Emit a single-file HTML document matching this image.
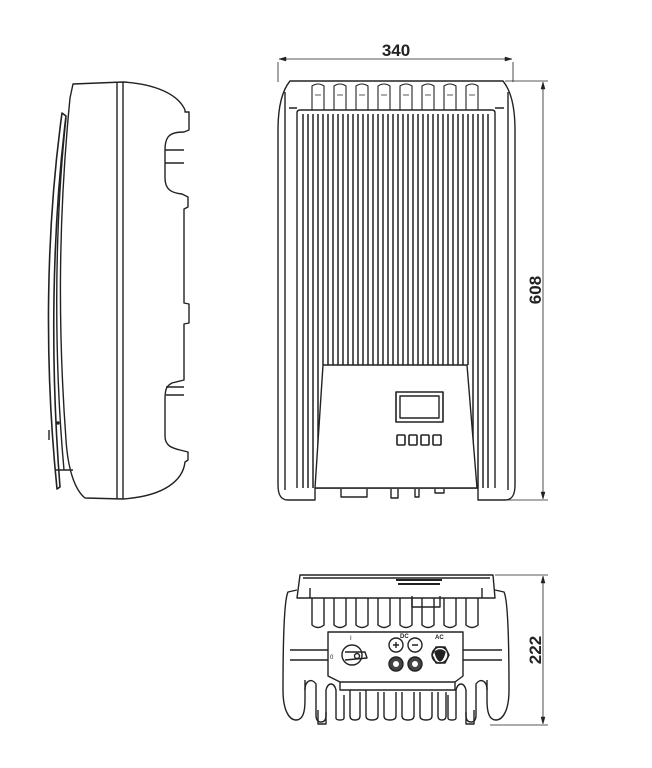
<!DOCTYPE html>
<html><head><style>html,body{margin:0;padding:0;background:#fff}svg{display:block}</style></head>
<body>
<svg width="652" height="768" viewBox="0 0 652 768" xmlns="http://www.w3.org/2000/svg" fill="none" stroke="#222" stroke-width="1.4" stroke-linejoin="round">
<!-- SIDE VIEW -->
<path d="M62,113 L66,116 C52,230 50,360 60,487 L57,489 C44,360 46,230 62,113 Z" stroke-width="1.6"/>
<path d="M66,118 C54,230 54,360 64,470" />
<path d="M73,84 L123,82 C155,84 178,94 185,110 L185,112 L189,112 L189,130 L184,132 C170,132 165,136 165,150 L165,178 C165,190 172,193 182,194 L188,197 L188,207 L184,209 L184,303 L189,304 L189,323 L184,324 L184,380 L172,383 C166,386 165,390 165,400 L165,436 C165,446 172,448 180,450 L188,452 L188,460 L185,462 C183,480 165,496 123,499 L85,498 C75,490 68,470 66,440 C58,330 58,220 70,98 Z"/>
<path d="M117,82 L117,499 M123,82 L123,499"/>
<path d="M165,150 L184,150 M165,163 L184,163 M166,395 L184,395 M166,387 L184,387"/>
<circle cx="58" cy="423" r="1" fill="#222"/>
<path d="M49,430 L49,440 M56,470 L73,470"/>

<!-- FRONT VIEW dims -->
<path d="M278,62 L278,82 M513,62 L513,82 M279,59 L512,59" stroke-width="0.8"/>
<path d="M279,59 l7,-2 v4z M512,59 l-7,-2 v4z" fill="#222" stroke-width="0.5"/>
<text x="396" y="56" font-family="Liberation Sans, sans-serif" font-size="17" font-weight="bold" fill="#222" stroke="none" text-anchor="middle">340</text>
<path d="M505,81 L548,81 M478,500 L548,500 M543,82 L543,499" stroke-width="0.8"/>
<path d="M543,82 l-2,7 h4z M543,499 l-2,-7 h4z" fill="#222" stroke-width="0.5"/>
<text transform="translate(541,290) rotate(-90)" font-family="Liberation Sans, sans-serif" font-size="17" font-weight="bold" fill="#222" stroke="none" text-anchor="middle">608</text>

<!-- FRONT VIEW body -->
<path d="M290,81 L503,81 C512,92 515,110 515,130 L515,485 C515,495 512,500 505,500 L478,500 L478,488 L315,488 L315,500 L288,500 C281,500 278,495 278,485 L278,130 C278,110 281,92 290,81 Z"/>
<path d="M285,92 L285,490 M508,92 L508,490 M289,108 L297,108 M495,108 L504,108"/>
<path d="M297,113 Q297,110 300,110 L492,110 Q495,110 495,113 L495,488 M297,113 L297,488"/>
<g>
<path d="M312,110 L312,86 Q318,82 324,86 L324,110 M334,110 L334,86 Q340,82 346,86 L346,110 M356,110 L356,86 Q362,82 368,86 L368,110 M378,110 L378,86 Q384,82 390,86 L390,110 M400,110 L400,86 Q406,82 412,86 L412,110 M422,110 L422,86 Q428,82 434,86 L434,110 M444,110 L444,86 Q450,82 456,86 L456,110 M466,110 L466,86 Q472,82 478,86 L478,110" stroke-width="1.1"/>
<path d="M315,95 L321,95 M337,95 L343,95 M359,95 L365,95 M381,95 L387,95 M403,95 L409,95 M425,95 L431,95 M447,95 L453,95 M469,95 L475,95" stroke-width="0.8"/>
</g>
<g stroke-width="1.5">
<path d="M303,114V488M308,114V488M313,114V488M318,114V488M323,114V365M328,114V365M333,114V365M338,114V365M343,114V365M348,114V365M353,114V365M358,114V365M363,114V365M368,114V365M373,114V365M378,114V365M383,114V365M388,114V365M393,114V365M398,114V365M403,114V365M408,114V365M413,114V365M418,114V365M423,114V365M428,114V365M433,114V365M438,114V365M443,114V365M448,114V365M453,114V365M458,114V365M463,114V365M468,114V365M473,114V488M478,114V488M483,114V488M488,114V488"/>
</g>
<path d="M323,365 L467,365 L477,488 L315,488 Z" fill="#fff"/>
<rect x="396" y="392" width="47" height="30" stroke-width="1.6"/>
<rect x="400" y="396" width="39" height="22"/>
<rect x="397" y="435" width="8" height="10" rx="1" stroke-width="1.6"/><rect x="409" y="435" width="8" height="10" rx="1" stroke-width="1.6"/><rect x="421" y="435" width="8" height="10" rx="1" stroke-width="1.6"/><rect x="433" y="435" width="8" height="10" rx="1" stroke-width="1.6"/>
<path d="M341,489 L341,497 L367,497 L367,489 M391,489 L391,498 L398,498 L398,489 M415,489 L415,497 L419,497 L419,489 M435,489 L435,493 L444,493 L444,489"/>

<!-- BOTTOM VIEW dims -->
<path d="M495,575 L548,575 M490,725 L548,725 M543,576 L543,724" stroke-width="0.8"/>
<path d="M543,576 l-2,7 h4z M543,724 l-2,-7 h4z" fill="#222" stroke-width="0.5"/>
<text transform="translate(541,650) rotate(-90)" font-family="Liberation Sans, sans-serif" font-size="17" font-weight="bold" fill="#222" stroke="none" text-anchor="middle">222</text>

<!-- BOTTOM VIEW -->
<path d="M300,575 L493,575 L495,598 L297,598 Z"/>
<path d="M303,578 L490,578 M310,598 L310,588 M482,598 L482,588"/>
<path d="M396,580 L442,580 M398,584 L440,584" stroke-width="2"/>
<path d="M297,590 L288,592 C284,600 283,640 283,690 C283,712 290,720 296,720 C303,720 305,712 305,700 L305,680"/>
<path d="M495,590 L504,592 C508,600 509,640 509,690 C509,712 502,720 496,720 C489,720 487,712 487,700 L487,680"/>
<path d="M290,650 L328,650 M290,660 L328,660 M463,650 L502,650 M463,660 L502,660"/>
<path d="M312,598 L312,625 Q318,630 324,625 L324,598 M334,598 L334,625 Q340,630 346,625 L346,598 M356,598 L356,625 Q362,630 368,625 L368,598 M378,598 L378,625 Q384,630 390,625 L390,598 M400,598 L400,625 Q406,630 412,625 L412,598 M422,598 L422,625 Q428,630 434,625 L434,598 M444,598 L444,625 Q450,630 456,625 L456,598 M466,598 L466,625 Q472,630 478,625 L478,598"/>
<path d="M412,596 L412,607 L440,607 L440,596"/>
<path d="M328,632 L463,632 L463,676 L455,682 L340,682 L328,676 Z"/>
<path d="M340,682 L340,690 L455,690 L455,682"/>
<circle cx="352" cy="655" r="10"/>
<path d="M345,652 L365,652 L367,658 L345,660"/>
<circle cx="357" cy="656" r="2.5"/>
<circle cx="396" cy="645" r="7"/><circle cx="415" cy="645" r="7"/>
<path d="M393,645h6M396,642v6M412,645h6"/>
<circle cx="396" cy="664" r="7" fill="#444"/><circle cx="415" cy="664" r="7" fill="#444"/>
<circle cx="396" cy="664" r="3" fill="#fff" stroke="none"/><circle cx="415" cy="664" r="3" fill="#fff" stroke="none"/>
<path d="M432,655 L436,647 L445,647 L449,655 L445,663 L436,663 Z"/>
<circle cx="440" cy="655" r="8"/>
<path d="M435,652 Q440,648 445,652 Q443,660 440,661 Q437,660 435,652Z" fill="#222"/>
<text x="350" y="640" font-family="Liberation Sans, sans-serif" font-size="6" fill="#222" stroke="none">I</text>
<text x="330" y="659" font-family="Liberation Sans, sans-serif" font-size="6" fill="#222" stroke="none">0</text>
<text x="400" y="638" font-family="Liberation Sans, sans-serif" font-size="6" font-weight="bold" fill="#222" stroke="none">DC</text>
<text x="435" y="639" font-family="Liberation Sans, sans-serif" font-size="6" font-weight="bold" fill="#222" stroke="none">AC</text>
<path d="M305,690 C305,680 312,678 316,684 L316,715 Q316,722 321,722 Q326,722 326,715 L326,690 C328,682 334,682 336,690 L336,718 Q336,720 340,720 Q344,720 344,718 L344,695"/>
<path d="M487,690 C487,680 480,678 476,684 L476,715 Q476,722 471,722 Q466,722 466,715 L466,690 C464,682 458,682 456,690 L456,718 Q456,720 452,720 Q448,720 448,718 L448,695"/>
<path d="M350,690 L350,716 Q350,720 355,720 Q360,720 360,716 L360,692 M366,690 L366,716 Q366,720 372,720 Q378,720 378,716 L378,692 M384,692 L384,716 Q384,720 390,720 Q396,720 396,716 L396,692 M402,692 L402,716 Q402,720 408,720 Q414,720 414,716 L414,692 M420,692 L420,716 Q420,720 426,720 Q432,720 432,716 L432,692 M438,692 L438,716 Q438,720 442,720 Q446,720 446,716 L446,692"/>
<path d="M318,710 L318,724 L326,724 L326,712 M466,712 L466,724 L474,724 L474,710"/>
</svg>
</body></html>
